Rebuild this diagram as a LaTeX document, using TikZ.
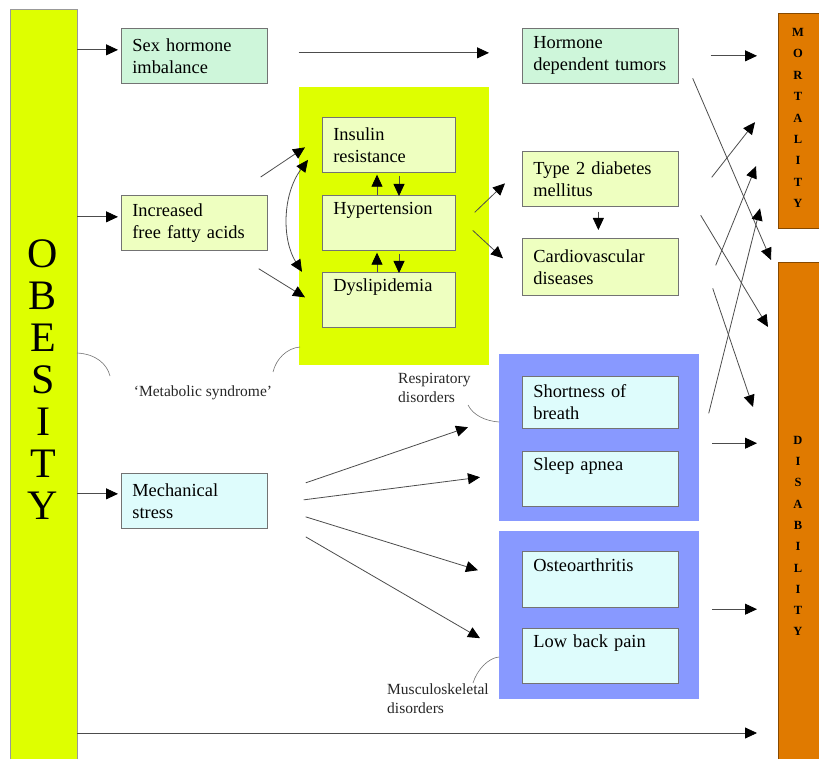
\documentclass[tikz,border=0pt]{standalone}
\usepackage{fontspec}
\setmainfont{Liberation Serif}
\usetikzlibrary{arrows.meta, calc}

\definecolor{obyellow}{RGB}{222,255,0}
\definecolor{paleyel}{RGB}{238,255,192}
\definecolor{mint}{RGB}{206,246,218}
\definecolor{palecyan}{RGB}{222,252,252}
\definecolor{periwinkle}{RGB}{136,153,255}
\definecolor{outcome}{RGB}{224,122,0}

\begin{document}
\begin{tikzpicture}[x=1pt, y=-1pt,
		box/.style={draw=black!55, line width=0.7pt, anchor=north west, align=left,
			inner xsep=11pt, inner ysep=0pt, minimum height=55pt,
			font=\fontsize{18.4}{22}\selectfont},
		panel/.style={anchor=north west, inner sep=0pt},
		arr/.style={draw=black!70, line width=0.8pt, -{Triangle[length=12pt, width=11pt, color=black]}},
		tie/.style={draw=black!55, line width=0.6pt},
		lab/.style={font=\fontsize{15.5}{19}\selectfont, text=black!85, inner sep=0pt},
		letters/.style={align=center, inner sep=0pt}]
		\useasboundingbox (0,0) rectangle (819,759);
		
		% left bar
		\node[panel, fill=obyellow, draw=black!40, minimum width=67pt, minimum height=760pt] (obesity) at (10,9) {};
		\node[letters, font=\fontsize{42}{42}\selectfont] (obtext) at (43,380) {O\\B\\E\\S\\I\\T\\Y};
		
		% outcome bars
		\node[panel, fill=outcome, draw=black!40!outcome, minimum width=50pt, minimum height=215pt] (mort) at (778,13) {};
		\node[letters, font=\fontsize{12.5}{21.4}\selectfont\bfseries] (morttext) at (798,118) {M\\O\\R\\T\\A\\L\\I\\T\\Y};
		\node[panel, fill=outcome, draw=black!40!outcome, minimum width=50pt, minimum height=510pt] (disab) at (778,262) {};
		\node[letters, font=\fontsize{12.5}{21.3}\selectfont\bfseries] (disabtext) at (798,536) {D\\I\\S\\A\\B\\I\\L\\I\\T\\Y};
		
		% causes
		\node[box, fill=mint, text width=124pt] (sex) at (121,28) {Sex hormone\\imbalance};
		\node[box, fill=paleyel, text width=124pt] (ffa) at (121,195) {Increased\\free fatty acids};
		\node[box, fill=palecyan, text width=124pt] (mech) at (121,473) {Mechanical\\stress};
		
		% metabolic syndrome
		\node[panel, fill=obyellow, minimum width=190pt, minimum height=278pt] (metab) at (299,87) {};
		\node[box, fill=paleyel, text width=111pt] (ins) at (322,117) {Insulin\\resistance};
		\node[box, fill=paleyel, text width=111pt] (hyp) at (322,195) {Hypertension\\\strut};
		\node[box, fill=paleyel, text width=111pt] (dys) at (322,272) {Dyslipidemia\\\strut};
		
		% diseases
		\node[box, fill=mint, text width=134pt] (tum) at (522,28) {Hormone\\\mbox{dependent tumors}};
		\node[box, fill=paleyel, text width=134pt] (dm) at (522,151) {Type 2 diabetes\\mellitus};
		\node[box, fill=paleyel, text width=134pt, minimum height=57pt] (cvd) at (522,238) {Cardiovascular\\diseases};
		
		\node[panel, fill=periwinkle, minimum width=200pt, minimum height=167pt] (resp) at (499,354) {};
		\node[box, fill=palecyan, text width=134pt, minimum height=52pt] (sob) at (522,376) {Shortness of\\breath};
		\node[box, fill=palecyan, text width=134pt] (apnea) at (522,451) {Sleep apnea\\\strut};
		\node[panel, fill=periwinkle, minimum width=200pt, minimum height=168pt] (musc) at (499,531) {};
		\node[box, fill=palecyan, text width=134pt, minimum height=56pt] (oa) at (522,551) {Osteoarthritis\\\strut};
		\node[box, fill=palecyan, text width=134pt] (lbp) at (522,628) {Low back pain\\\strut};
		
		% labels
		\node[lab] (metlab) at (203,393) {`Metabolic syndrome'};
		\node[lab, align=left, anchor=north west] (resplab) at (398,373) {Respiratory\\disorders};
		\node[lab, align=left, anchor=north west] (musclab) at (387,684) {Musculoskeletal\\disorders};
		
		\draw[tie] (77,353) .. controls (96,354) and (107,364) .. (110,376);
		\draw[tie] (273,372) .. controls (276,359) and (287,348) .. (300,347);
		\draw[tie] (468,405) .. controls (473,415) and (485,421) .. (499,422);
		\draw[tie] (473,683) .. controls (477,670) and (488,658) .. (499,657);
		
		% obesity to causes
		\coordinate (base) at (0,733);
		\draw[arr] ([yshift=6pt]obesity.east |- sex.west) -- ([xshift=-3pt, yshift=6pt]sex.west);
		\draw[arr] ([yshift=6pt]obesity.east |- ffa.west) -- ([xshift=-3pt, yshift=6pt]ffa.west);
		\draw[arr] ([yshift=7pt]obesity.east |- mech.west) -- ([xshift=-3pt, yshift=7pt]mech.west);
		\draw[arr, shorten >=21pt] (obesity.east |- base) -- (disab.west |- base);
		
		\draw[arr, shorten <=31pt, shorten >=33pt] ([yshift=3pt]sex.east) -- ([yshift=3pt]tum.west);
		
		\draw[arr] ($(ffa.north east)+(-7,-18)$) -- ($(ins.west)+(-17,2.5)$);
		\draw[arr] ($(ffa.south east)+(-9,18)$) -- ($(dys.west)+(-17,-2.5)$);
		\draw[arr, {Triangle[length=12pt, width=11pt, color=black]}-{Triangle[length=12pt, width=11pt, color=black]}]
			($(ins.west)+(-14,15)$) .. controls (282,195) and (282,240) .. ($(dys.west)+(-20,-28)$);
		
		\draw[arr] ($(hyp.north west)+(55,0)$) -- ($(ins.south west)+(55,2)$);
		\draw[arr] ($(ins.south west)+(77,3)$) -- ($(hyp.north west)+(77,1)$);
		\draw[arr] ($(dys.north west)+(55,0)$) -- ($(hyp.south west)+(55,2)$);
		\draw[arr] ($(hyp.south west)+(77,3)$) -- ($(dys.north west)+(77,1)$);
		
		\draw[arr] ($(hyp.east)+(19,-10.5)$) -- ($(dm.west)+(-17,4.5)$);
		\draw[arr] ($(hyp.east)+(17,7.5)$) -- ($(cvd.west)+(-19,-8.5)$);
		\draw[arr, shorten <=5pt, shorten >=8pt] ([xshift=-2pt]dm.south) -- ([xshift=-2pt]cvd.north);
		
		% mechanical stress
		\draw[arr] ($(mech.east)+(38,-18)$) -- ($(resp.west)+(-31,-10.5)$);
		\draw[arr] ($(mech.east)+(36,-1)$) -- ($(resp.west)+(-19,39.5)$);
		\draw[arr] ($(mech.east)+(38,16)$) -- ($(musc.west)+(-21,-45)$);
		\draw[arr] ($(mech.east)+(38,36)$) -- ($(musc.west)+(-19,23)$);
		
		% to outcomes
		\draw[arr, shorten <=32pt, shorten >=21pt] (tum.east) -- (tum.east -| mort.west);
		\draw[arr] ($(tum.east)+(14,22.5)$) -- ($(disab.north west)+(-7,-2)$);
		\draw[arr] ($(dm.east)+(33,-1.5)$) -- ($(mort.west)+(-23,1.5)$);
		\draw[arr] ($(cvd.east)+(37,-1.5)$) -- ($(mort.west)+(-22,45.5)$);
		\draw[arr] ($(dm.east)+(22,36.5)$) -- ($(disab.north west)+(-10,65)$);
		\draw[arr] ($(sob.east)+(30,11)$) -- ($(mort.south west)+(-18,-20)$);
		\draw[arr] ($(cvd.east)+(34,21.5)$) -- ($(disab.north west)+(-25,145)$);
		\draw[arr] ($(resp.east)+(13,5.5)$) -- ($(resp.east -| disab.west)+(-21,5.5)$);
		\draw[arr] ($(musc.east)+(13,-6)$) -- ($(musc.east -| disab.west)+(-21,-6)$);
	\end{tikzpicture}
\end{document}
